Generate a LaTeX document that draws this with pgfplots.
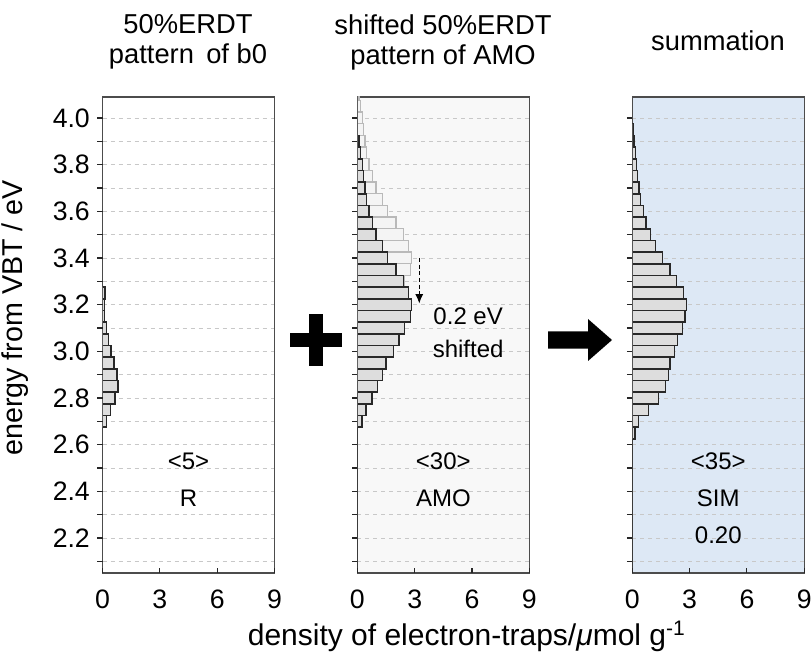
\documentclass[border=0pt]{standalone}
\usepackage{fontspec}
\setmainfont{Liberation Sans}
\usepackage{pgfplots}
\pgfplotsset{compat=1.18}
\usepackage{pgfplotstable}
\usetikzlibrary{arrows.meta}

\definecolor{barfill}{RGB}{221,221,221}
\definecolor{barline}{RGB}{40,40,40}
\definecolor{origfill}{RGB}{244,244,244}
\definecolor{origline}{RGB}{185,185,185}
\definecolor{amobg}{RGB}{248,248,248}
\definecolor{simbg}{RGB}{221,232,245}
\definecolor{gridgray}{RGB}{200,200,200}

% energy (eV, bin centre) and trap density per 0.05 eV bin
\pgfplotstableread{
E v
3.60 0
3.55 0
3.50 0
3.45 0
3.40 0
3.35 0
3.30 0
3.25 0.12
3.20 0.10
3.15 0.10
3.10 0.20
3.05 0.30
3.00 0.45
2.95 0.60
2.90 0.75
2.85 0.82
2.80 0.65
2.75 0.42
2.70 0.20
2.65 0
2.60 0
2.55 0
2.50 0
2.45 0
}\tabBzero

\pgfplotstableread{
E v
4.10 0.08
4.05 0.17
4.00 0.26
3.95 0.31
3.90 0.40
3.85 0.49
3.80 0.61
3.75 0.79
3.70 0.98
3.65 1.31
3.60 1.57
3.55 2.02
3.50 2.41
3.45 2.69
3.40 2.83
3.35 2.77
3.30 2.48
3.25 2.18
3.20 1.88
3.15 1.50
3.10 1.31
3.05 1.05
3.00 0.77
2.95 0.45
2.90 0.25
}\tabAMO

\pgfplotstableread{
E v
4.10 0
4.05 0
4.00 0
3.95 0
3.90 0.08
3.85 0.17
3.80 0.26
3.75 0.31
3.70 0.40
3.65 0.49
3.60 0.61
3.55 0.79
3.50 0.98
3.45 1.31
3.40 1.57
3.35 2.02
3.30 2.41
3.25 2.69
3.20 2.83
3.15 2.77
3.10 2.48
3.05 2.18
3.00 1.88
2.95 1.50
2.90 1.31
2.85 1.05
2.80 0.77
2.75 0.45
2.70 0.25
2.65 0
2.60 0
2.55 0
2.50 0
2.45 0
2.40 0
2.35 0
2.30 0
2.25 0
2.20 0
2.15 0
2.10 0
2.05 0
}\tabAMOshift

\pgfplotstableread{
E v
3.95 0.04
3.90 0.09
3.85 0.16
3.80 0.23
3.75 0.28
3.70 0.35
3.65 0.44
3.60 0.58
3.55 0.72
3.50 0.96
3.45 1.22
3.40 1.59
3.35 1.97
3.30 2.32
3.25 2.67
3.20 2.84
3.15 2.77
3.10 2.64
3.05 2.36
3.00 2.20
2.95 1.97
2.90 1.90
2.85 1.75
2.80 1.38
2.75 0.86
2.70 0.33
2.65 0.14
2.60 0
2.55 0
2.50 0
2.45 0
2.40 0
2.35 0
2.30 0
2.25 0
2.20 0
2.15 0
2.10 0
2.05 0
}\tabSIM

\tikzset{annot/.style={font=\fontsize{18}{21}\selectfont, text=black}}

\pgfplotsset{
  /pgfplots/layers/trapslayers/.define layer set={
    axis background,axis grid,axis lines,main,axis ticks,
    axis tick labels,axis descriptions,axis foreground
  }{/pgfplots/layers/standard},
  trappanel/.style={
    set layers=trapslayers,
    scale only axis, width=129pt, height=357pt,
    xmin=0, xmax=9, ymin=2.05, ymax=4.09,
    xtick={0,3,6,9},
    ytick={2.2,2.4,2.6,2.8,3.0,3.2,3.4,3.6,3.8,4.0},
    minor ytick={2.1,2.3,2.5,2.7,2.9,3.1,3.3,3.5,3.7,3.9},
    tick pos=left, tick align=inside,
    major tick length=4pt, minor tick length=4pt,
    every tick/.style={black!85, line width=0.8pt},
    ymajorgrids, yminorgrids,
    major grid style={dashed, gridgray, line width=0.5pt},
    minor grid style={dashed, gridgray, line width=0.5pt},
    axis line style={black!70, line width=0.9pt},
    tick label style={font=\fontsize{20}{24}\selectfont},
    /pgf/number format/assume math mode=true,
    y tick label style={/pgf/number format/fixed,
      /pgf/number format/fixed zerofill, /pgf/number format/precision=1},
    x tick label style={yshift=-9.5pt},
    xbar, bar width=0.05, bar shift=0pt,
  },
  trapbar/.style={draw=barline, fill=barfill, line width=1.1pt},
}

\begin{document}
\begin{tikzpicture}

% panel 1: b0
\begin{axis}[trappanel, at={(76.9pt,59.25pt)}, anchor=south west,
  y tick label style={xshift=-2pt}]
  \addplot[trapbar] table[x=v, y=E] {\tabBzero};
  \node[annot] at (axis cs:4.5,2.53) {<5>};
  \node[annot] at (axis cs:4.5,2.37) {R};
\end{axis}

% panel 2: AMO, original and shifted by 0.2 eV
\begin{axis}[trappanel, at={(268pt,59.25pt)}, anchor=south west,
  yticklabels={}, axis background/.style={fill=amobg}]
  \addplot[draw=origline, fill=origfill, line width=1pt] table[x=v, y=E] {\tabAMO};
  \addplot[trapbar] table[x=v, y=E] {\tabAMOshift};
  \draw[densely dashed, line width=0.8pt, -{Latex[length=7pt,width=6pt]}]
    (axis cs:3.24,3.40) -- (axis cs:3.24,3.205);
  \node[annot] at (axis cs:5.8,3.15) {0.2 eV};
  \node[annot] at (axis cs:5.8,3.01) {shifted};
  \node[annot] at (axis cs:4.5,2.53) {<30>};
  \node[annot] at (axis cs:4.5,2.37) {AMO};
\end{axis}

% panel 3: summation
\begin{axis}[trappanel, at={(474.2pt,59.25pt)}, anchor=south west,
  yticklabels={}, axis background/.style={fill=simbg}]
  \addplot[trapbar] table[x=v, y=E] {\tabSIM};
  \node[annot] at (axis cs:4.5,2.53) {<35>};
  \node[annot] at (axis cs:4.5,2.37) {SIM};
  \node[annot] at (axis cs:4.5,2.21) {0.20};
\end{axis}

% panel titles
\node[align=center, font=\fontsize{20.5}{22.5}\selectfont] at (141pt,457.5pt)
  {50\%ERDT\\pattern\hspace{0.45em}of b0};
\node[align=center, font=\fontsize{20.5}{22.5}\selectfont] at (332.25pt,457.5pt)
  {shifted 50\%ERDT\\pattern of AMO};
\node[font=\fontsize{20.5}{22.5}\selectfont] at (538.5pt,458.25pt) {summation};

% shared axis labels
\node[rotate=90, inner sep=0pt, font=\fontsize{21.5}{25}\selectfont]
  at (11.5pt,250.5pt) {energy from VBT / eV};
\node[font=\fontsize{22.5}{26}\selectfont] at (350pt,12pt)
  {density of electron-traps/\textit{μ}mol g\textsuperscript{-1}};

% plus sign and arrow between the panels
\fill[black] (217.5pt,229.1pt) rectangle (256.5pt,238.9pt);
\fill[black] (232.1pt,214.5pt) rectangle (241.9pt,253.5pt);
\fill[black] (411pt,227.6pt) -- (441pt,227.6pt) -- (441pt,218.25pt) -- (459pt,234pt)
  -- (441pt,249.75pt) -- (441pt,240.4pt) -- (411pt,240.4pt) -- cycle;

% fixed page frame
\pgfresetboundingbox
\path[use as bounding box] (0pt,0pt) rectangle (609pt,489pt);
\end{tikzpicture}
\end{document}
